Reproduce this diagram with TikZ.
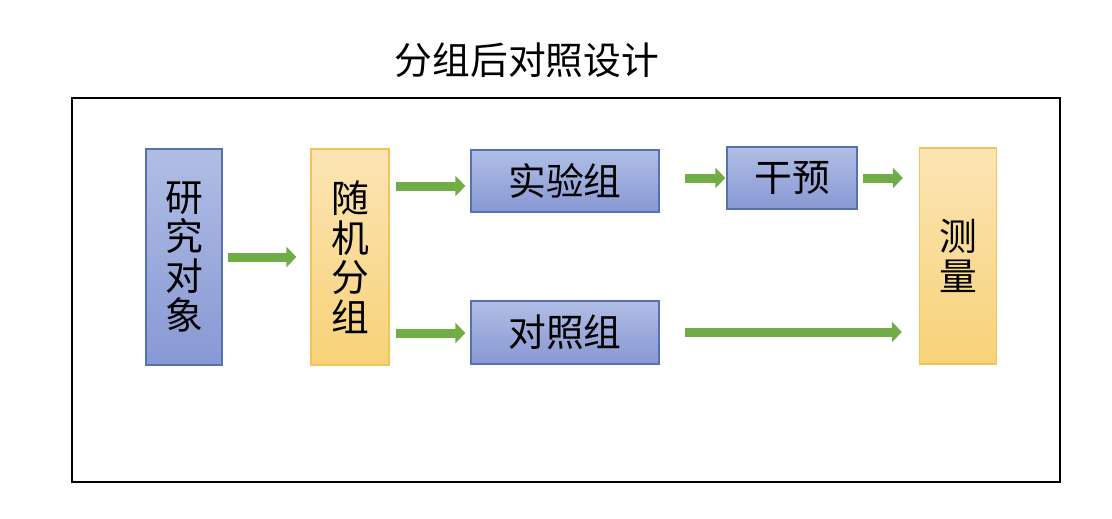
\documentclass[tikz,border=0pt]{standalone}
\usepackage{fontspec}
\setmainfont{Noto Sans CJK SC}
\usetikzlibrary{calc}
\usetikzlibrary{arrows.meta}
\definecolor{bleuhaut}{HTML}{B0BEE5}
\definecolor{bleubas}{HTML}{8898D3}
\definecolor{bleubord}{HTML}{5670B0}
\definecolor{orhaut}{HTML}{FCE5B4}
\definecolor{orbas}{HTML}{F7D278}
\definecolor{orbord}{HTML}{F2C35A}
\definecolor{vert}{HTML}{70AD47}
\begin{document}
\begin{tikzpicture}[x=0.02cm,y=-0.02cm,
    bleu/.style={draw=bleubord,line width=0.7pt,top color=bleuhaut,bottom color=bleubas,inner sep=0pt,align=center},
    orange/.style={draw=orbord,line width=0.7pt,top color=orhaut,bottom color=orbas,inner sep=0pt,align=center},
    fleche/.style={draw=vert,line width=0.18cm,-{Triangle[length=0.2cm,width=0.4cm]}},
    font=\fontsize{21.5}{22.5}\selectfont]

    % Cadre de l'image
    \useasboundingbox (0,0) rectangle (1112,518);

    % Titre
    \node (titre) at (527,60) {分组后对照设计};

    % Cadre principal
    \draw[line width=1.1pt] (72,98) rectangle (1060,482);

    % Blocs
    \node[bleu, minimum width=1.52cm, minimum height=4.32cm] (objet) at (184,257) {研\\究\\对\\象};
    \node[orange, minimum width=1.56cm, minimum height=4.32cm] (hasard) at (350,257) {随\\机\\分\\组};
    \node[bleu, minimum width=3.76cm, minimum height=1.24cm] (exp) at (565,181) {实验组};
    \node[bleu, minimum width=3.76cm, minimum height=1.26cm] (temoin) at (565,332.5) {对照组};
    \node[bleu, minimum width=2.6cm, minimum height=1.24cm] (interv) at (792,178) {干预};
    \node[orange, minimum width=1.54cm, minimum height=4.32cm] (mesure) at (958,256) {测\\量};

    % Fleches
    \draw[fleche] ($(objet.east)+(5,0)$) -- ($(hasard.west)+(-14,0)$);
    \draw[fleche] ($(hasard.east |- 0,186)+(6,0)$) -- ($(exp.west |- 0,186)+(-5,0)$);
    \draw[fleche] ($(hasard.east |- 0,333)+(6,0)$) -- ($(temoin.west |- 0,333)+(-5,0)$);
    \draw[fleche] ($(exp.east |- 0,178)+(25,0)$) -- ($(interv.west)+(-1,0)$);
    \draw[fleche] ($(interv.east)+(5,0)$) -- ($(mesure.west |- 0,178)+(-16,0)$);
    \draw[fleche] ($(temoin.east |- 0,332)+(25,0)$) -- ($(mesure.west |- 0,332)+(-17,0)$);

\end{tikzpicture}
\end{document}
